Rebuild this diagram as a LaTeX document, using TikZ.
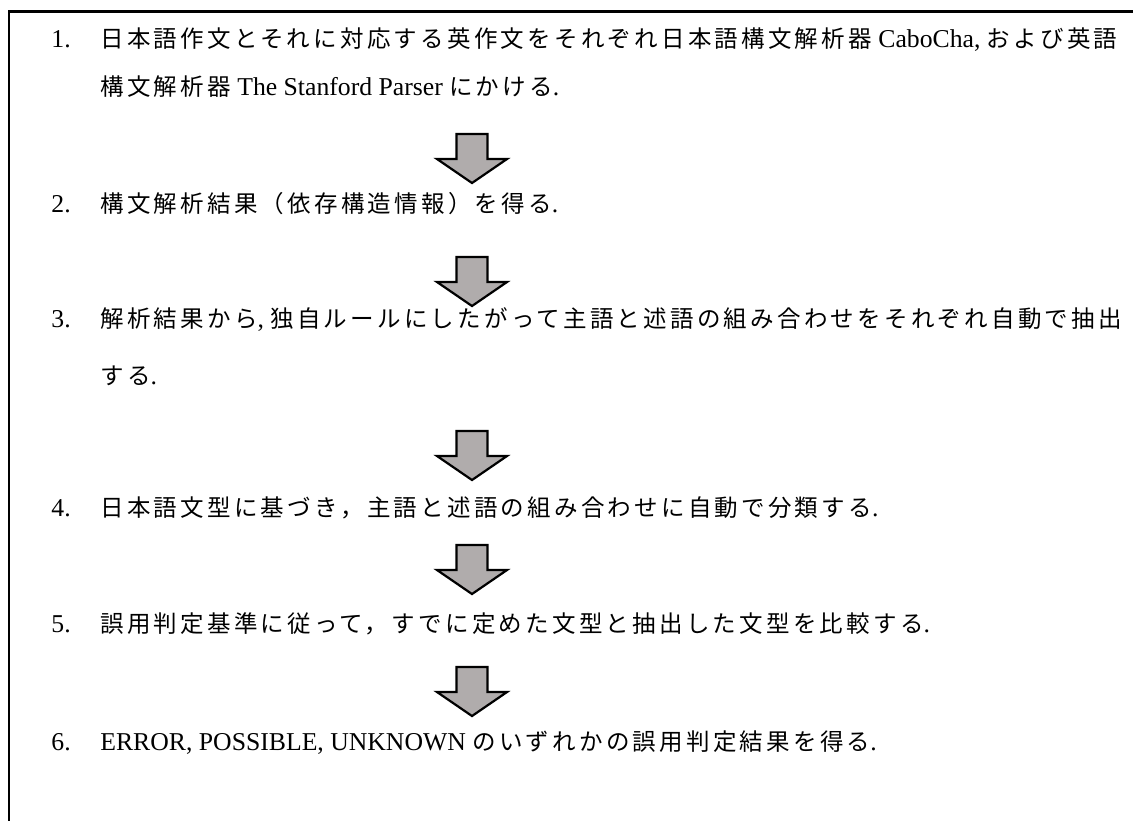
\documentclass[tikz,border=0pt]{standalone}
\usepackage{fontspec}
\setmainfont{Liberation Serif}
\newfontfamily\jpfont[LetterSpace=13.8]{Noto Sans CJK JP}
\newcommand\jtxt[1]{{\fontsize{11.75}{16}\jpfont #1}}
\definecolor{arrowgray}{RGB}{176,172,172}
\tikzset{
  numlbl/.style={anchor=base west, inner sep=0pt, font=\fontsize{12.85}{15}\selectfont},
  txtlbl/.style={anchor=base west, inner sep=0pt, font=\fontsize{12.85}{15}\selectfont},
  frameline/.style={line width=1.3pt},
  blockarrow/.pic={
    \draw[line width=1.1pt, fill=arrowgray, line join=miter]
      (-15.5,0) -- (15.5,0) -- (15.5,25) -- (35,25) -- (0,49) -- (-35,25) -- (-15.5,25) -- cycle;
  }
}
\begin{document}
\begin{tikzpicture}[x=0.5pt,y=-0.5pt]
\useasboundingbox (0,0) rectangle (1133,820);
\fill[white] (0,0) rectangle (1133,820);
% frame (cropped: only left and top edges visible)
\coordinate (fbl) at (9,830);
\coordinate (ftl) at (9,11.5);
\coordinate (ftr) at (1140,11.5);
\draw[frameline] (fbl) -- (ftl) -- (ftr);

% step 1
\node[numlbl] (n1) at (51,47.5) {1.};
\node[txtlbl] (t1a) at (100,47.5) {\jtxt{日本語作文とそれに対応する英作文をそれぞれ日本語構文解析器} CaboCha, \jtxt{および英語}};
\node[txtlbl] (t1b) at (100,95.5) {\jtxt{構文解析器} The Stanford Parser \jtxt{にかける}.};
\pic at (472,134) {blockarrow};

% step 2
\node[numlbl] (n2) at (51,212) {2.};
\node[txtlbl] (t2) at (100,212) {\jtxt{構文解析結果（依存構造情報）を得る}.};
\pic at (472,257) {blockarrow};

% step 3
\node[numlbl] (n3) at (51,327) {3.};
\node[txtlbl] (t3a) at (100,327) {\jtxt{解析結果から}, \jtxt{独自ルールにしたがって主語と述語の組み合わせをそれぞれ自動で抽出}};
\node[txtlbl] (t3b) at (100,384) {\jtxt{する}.};
\pic at (472,431) {blockarrow};

% step 4
\node[numlbl] (n4) at (51,516) {4.};
\node[txtlbl] (t4) at (100,516) {\jtxt{日本語文型に基づき，主語と述語の組み合わせに自動で分類する}.};
\pic at (472,545) {blockarrow};

% step 5
\node[numlbl] (n5) at (51,632) {5.};
\node[txtlbl] (t5) at (100,632) {\jtxt{誤用判定基準に従って，すでに定めた文型と抽出した文型を比較する}.};
\pic at (472,667) {blockarrow};

% step 6
\node[numlbl] (n6) at (51,750) {6.};
\node[txtlbl] (t6) at (100,750) {ERROR, POSSIBLE, UNKNOWN \jtxt{のいずれかの誤用判定結果を得る}.};
\end{tikzpicture}
\end{document}
